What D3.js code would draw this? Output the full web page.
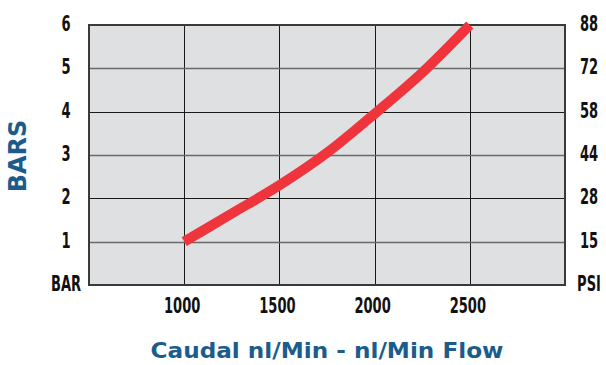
<!DOCTYPE html>
<html>
<head>
<meta charset="utf-8">
<script src="https://cdn.jsdelivr.net/npm/d3@7"></script>
<style>
  body { margin: 0; background: #fff; }
  .tick-label { font-family: "Liberation Sans Narrow", "DejaVu Sans Condensed", sans-serif; font-size: 22px; font-weight: bold; fill: #111; }
</style>
</head>
<body>
<svg id="chart" width="606" height="365"></svg>
<script>
// flow (nl/min) vs pressure (bar)
const flow = [1000, 1250, 1500, 1750, 2000, 2250, 2500]
const bars = [1.0, 1.65, 2.3, 3.05, 3.95, 4.9, 6.0]
const xTicks = [1000, 1500, 2000, 2500]
const barTicks = [0, 1, 2, 3, 4, 5, 6]
const barLabels = ["BAR", "1", "2", "3", "4", "5", "6"]
const psiLabels = ["PSI", "15", "28", "44", "58", "72", "88"]

const plot = {left: 89, right: 565, top: 25, bottom: 285}
const svg = d3.select("#chart")

const x = d3.scaleLinear().domain([500, 3000]).range([plot.left, plot.right])
const y = d3.scaleLinear().domain([0, 6]).range([plot.bottom, plot.top])

// plot background
svg.append("rect")
  .attr("x", plot.left).attr("y", plot.top)
  .attr("width", plot.right - plot.left).attr("height", plot.bottom - plot.top)
  .attr("fill", "#dfe0e2")

// grid
svg.append("g").selectAll("line")
  .data(xTicks)
  .enter().append("line")
  .attr("x1", d => Math.round(x(d)) + 0.5).attr("x2", d => Math.round(x(d)) + 0.5)
  .attr("y1", plot.top).attr("y2", plot.bottom)
  .attr("stroke", "#1a1a1a").attr("stroke-width", 1)

svg.append("g").selectAll("line")
  .data(barTicks.filter(d => d > 0 && d < 6))
  .enter().append("line")
  .attr("x1", plot.left).attr("x2", plot.right)
  .attr("y1", d => Math.round(y(d)) + 0.5).attr("y2", d => Math.round(y(d)) + 0.5)
  .attr("stroke", d => d % 2 ? "#6a6a6a" : "#1a1a1a")
  .attr("stroke-width", d => d % 2 ? 1.5 : 1)

// border
svg.append("rect")
  .attr("x", plot.left).attr("y", plot.top)
  .attr("width", plot.right - plot.left).attr("height", plot.bottom - plot.top)
  .attr("fill", "none").attr("stroke", "#3a3a3a").attr("stroke-width", 2)

// curve
const line = d3.line()
  .x(d => x(d[0]))
  .y(d => y(d[1]))
  .curve(d3.curveMonotoneX)

svg.append("path")
  .attr("d", line(flow.map((f, i) => [f, bars[i]])))
  .attr("fill", "none")
  .attr("stroke", "#ef343b")
  .attr("stroke-width", 10)
  .attr("stroke-linecap", "butt")

// narrow labels: squeeze horizontally, the original font is a condensed one
function narrowLabel(sel, cx, cy, txt) {
  sel.append("text")
    .attr("class", "tick-label")
    .attr("transform", "translate(" + cx + "," + cy + ") scale(0.66,1)")
    .attr("dy", "0.36em")
    .attr("text-anchor", "middle")
    .text(txt)
}

const labels = svg.append("g")
barTicks.forEach((d, i) => {
  narrowLabel(labels, 66, y(d) - 2, barLabels[i])
  narrowLabel(labels, 589, y(d) - 2, psiLabels[i])
})
xTicks.forEach(d => narrowLabel(labels, x(d) - 2, 305, d))

// axis titles
svg.append("text")
  .attr("x", 327).attr("y", 358)
  .attr("text-anchor", "middle")
  .attr("font-family", "'DejaVu Sans', sans-serif")
  .attr("font-size", 22)
  .attr("font-weight", "bold")
  .attr("fill", "#1b5c8d")
  .attr("textLength", 353)
  .attr("lengthAdjust", "spacingAndGlyphs")
  .text("Caudal nl/Min - nl/Min Flow")

svg.append("text")
  .attr("transform", "translate(26,156) rotate(-90)")
  .attr("text-anchor", "middle")
  .attr("font-family", "'DejaVu Sans', sans-serif")
  .attr("font-size", 24)
  .attr("font-weight", "bold")
  .attr("fill", "#1b5c8d")
  .text("BARS")
</script>
</body>
</html>
